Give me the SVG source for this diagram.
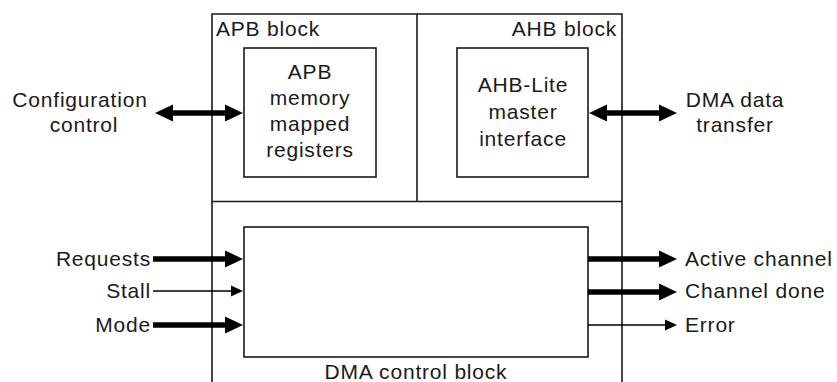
<svg xmlns="http://www.w3.org/2000/svg" width="837" height="382" viewBox="0 0 837 382">
<style>
text{font-family:"Liberation Sans",Arial,sans-serif;font-size:21px;letter-spacing:0.8px;fill:#1a1a1a}
.box{fill:none;stroke:#1a1a1a;stroke-width:1.6}
.thick{stroke:#000;stroke-width:5.5;fill:none}
.thin{stroke:#000;stroke-width:1.4;fill:none}
.c{text-anchor:middle}
.e{text-anchor:end}
</style>
<defs>
<marker id="hT" markerUnits="userSpaceOnUse" markerWidth="18" markerHeight="18" viewBox="0 -9 18 18" refX="0" refY="0" orient="auto-start-reverse" overflow="visible">
<path d="M0,-8.5 L18,0 L0,8.5 z" fill="#000"/>
</marker>
<marker id="hS" markerUnits="userSpaceOnUse" markerWidth="12" markerHeight="12" viewBox="0 -6 12 12" refX="0" refY="0" orient="auto" overflow="visible">
<path d="M0,-5.5 L12,0 L0,5.5 z" fill="#000"/>
</marker>
</defs>
<g id="dma-controller">
<path class="box" d="M212,384 V14 H622 V384"/>
<path class="box" d="M417,14 V201.5 M212,201.5 H622"/>
</g>
<g id="apb-block">
<text x="216" y="36">APB block</text>
</g>
<g id="apb-registers">
<rect class="box" x="244" y="48" width="132" height="129"/>
<text class="c" x="310" y="79">APB</text>
<text class="c" x="310" y="105">memory</text>
<text class="c" x="310" y="131">mapped</text>
<text class="c" x="310" y="157">registers</text>
</g>
<g id="ahb-block">
<text class="e" x="617" y="36">AHB block</text>
</g>
<g id="ahb-master">
<rect class="box" x="457" y="48" width="131" height="129"/>
<text class="c" x="523" y="92">AHB-Lite</text>
<text class="c" x="523" y="119">master</text>
<text class="c" x="523" y="146">interface</text>
</g>
<g id="dma-control-block">
<rect class="box" x="244" y="227" width="344" height="130"/>
<text class="c" x="416" y="379">DMA control block</text>
</g>
<g id="labels">
<text class="c" x="80" y="107">Configuration</text>
<text class="c" x="84" y="132">control</text>
<text class="c" x="735" y="107">DMA data</text>
<text class="c" x="735" y="132">transfer</text>
<text class="e" x="151" y="266">Requests</text>
<text class="e" x="151" y="298">Stall</text>
<text class="e" x="151" y="332">Mode</text>
<text x="685" y="266">Active channel</text>
<text x="685" y="298">Channel done</text>
<text x="685" y="332">Error</text>
</g>
<g id="connectors">
<line class="thick" x1="173" y1="113" x2="225" y2="113" marker-start="url(#hT)" marker-end="url(#hT)"/>
<line class="thick" x1="607" y1="113" x2="659" y2="113" marker-start="url(#hT)" marker-end="url(#hT)"/>
<line class="thick" x1="153" y1="259" x2="225" y2="259" marker-end="url(#hT)"/>
<line class="thin" x1="153" y1="291" x2="231" y2="291" marker-end="url(#hS)"/>
<line class="thick" x1="153" y1="325" x2="225" y2="325" marker-end="url(#hT)"/>
<line class="thick" x1="588" y1="259" x2="659" y2="259" marker-end="url(#hT)"/>
<line class="thick" x1="588" y1="292" x2="659" y2="292" marker-end="url(#hT)"/>
<line class="thin" x1="588" y1="325" x2="665" y2="325" marker-end="url(#hS)"/>
</g>
</svg>
